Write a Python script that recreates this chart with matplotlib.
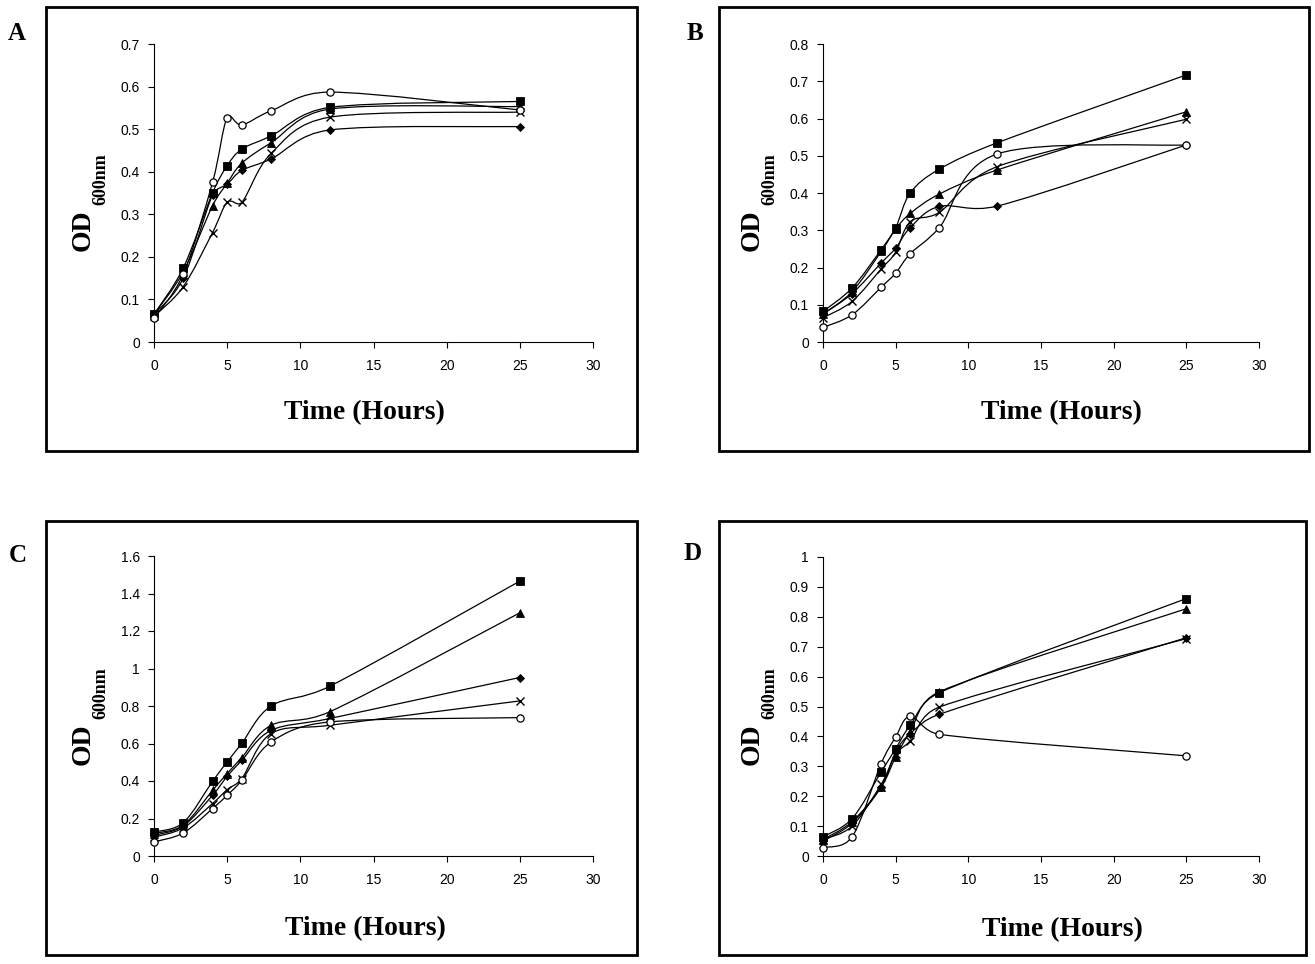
import numpy as np
import matplotlib
matplotlib.use("Agg")
import matplotlib.pyplot as plt
from matplotlib.path import Path
from matplotlib.patches import PathPatch, Rectangle

# ---- data: OD600 readings over time ----
hours = [0, 2, 4, 5, 6, 8, 12, 25]
hours_d = [0, 2, 4, 5, 6, 8, 25]

a_diamond = [0.065, 0.150, 0.345, 0.371, 0.403, 0.430, 0.498, 0.506]
a_square = [0.065, 0.174, 0.350, 0.414, 0.453, 0.484, 0.551, 0.565]
a_triangle = [0.065, 0.165, 0.320, 0.373, 0.420, 0.468, 0.547, 0.553]
a_cross = [0.060, 0.130, 0.257, 0.328, 0.328, 0.443, 0.528, 0.540]
a_circle = [0.056, 0.160, 0.375, 0.527, 0.510, 0.543, 0.587, 0.545]

b_diamond = [0.075, 0.130, 0.212, 0.252, 0.307, 0.364, 0.365, 0.529]
b_square = [0.082, 0.145, 0.248, 0.307, 0.400, 0.464, 0.535, 0.717]
b_triangle = [0.075, 0.135, 0.243, 0.303, 0.345, 0.397, 0.462, 0.618]
b_cross = [0.065, 0.109, 0.196, 0.241, 0.323, 0.348, 0.471, 0.598]
b_circle = [0.039, 0.073, 0.147, 0.185, 0.237, 0.307, 0.505, 0.529]

c_diamond = [0.110, 0.160, 0.324, 0.425, 0.510, 0.670, 0.733, 0.952]
c_square = [0.128, 0.178, 0.398, 0.502, 0.601, 0.800, 0.905, 1.466]
c_triangle = [0.120, 0.165, 0.350, 0.440, 0.525, 0.697, 0.769, 1.297]
c_cross = [0.100, 0.150, 0.280, 0.354, 0.413, 0.653, 0.697, 0.827]
c_circle = [0.075, 0.123, 0.253, 0.324, 0.404, 0.608, 0.715, 0.738]

d_diamond = [0.050, 0.110, 0.231, 0.348, 0.409, 0.474, 0.730]
d_square = [0.064, 0.125, 0.281, 0.359, 0.437, 0.546, 0.861]
d_triangle = [0.055, 0.115, 0.231, 0.331, 0.415, 0.549, 0.827]
d_cross = [0.055, 0.100, 0.240, 0.340, 0.385, 0.498, 0.727]
d_circle = [0.028, 0.064, 0.309, 0.398, 0.467, 0.407, 0.335]

x_ticks = [0, 5, 10, 15, 20, 25, 30]
x_label = "Time (Hours)"
y_label_main = "OD"
y_label_sub = "600nm"

# ---- figure layout (pixel boxes) ----
W, H = 1315, 964
fig = plt.figure(figsize=(W / 100, H / 100), dpi=100)
fig.patch.set_facecolor("white")

SERIF = "Liberation Serif"
SANS = "Liberation Sans"


def fx(px):
    return px / W


def fy(py):
    return 1 - py / H


markers = [
    dict(marker="D", ms=4.3, mfc="k", mec="k", mew=0.6),
    dict(marker="s", ms=5.5, mfc="k", mec="k", mew=0.6),
    dict(marker="^", ms=6.0, mfc="k", mec="k", mew=0.6),
    dict(marker="x", ms=5.5, mfc="k", mec="k", mew=1.0),
    dict(marker="o", ms=5.2, mfc="white", mec="k", mew=0.9),
]

panels = [
    dict(letter="A", letter_xy=(17, 33), frame=(46, 7, 637, 451),
         axbox=(154, 44, 593, 342), ymax=0.7, ystep=0.1,
         xlab_xy=(364, 413), t=hours,
         series=[a_diamond, a_square, a_triangle, a_cross, a_circle]),
    dict(letter="B", letter_xy=(695, 33), frame=(719, 7, 1309, 451),
         axbox=(823, 44, 1259, 342), ymax=0.8, ystep=0.1,
         xlab_xy=(1061, 413), t=hours,
         series=[b_diamond, b_square, b_triangle, b_cross, b_circle]),
    dict(letter="C", letter_xy=(18, 556), frame=(46, 521, 637, 955),
         axbox=(154, 556, 593, 856), ymax=1.6, ystep=0.2,
         xlab_xy=(365, 929), t=hours,
         series=[c_diamond, c_square, c_triangle, c_cross, c_circle]),
    dict(letter="D", letter_xy=(693, 554), frame=(719, 521, 1306, 955),
         axbox=(823, 557, 1259, 856), ymax=1.0, ystep=0.1,
         xlab_xy=(1062, 930), t=hours_d,
         series=[d_diamond, d_square, d_triangle, d_cross, d_circle]),
]


def smooth_path(ax, x, y):
    """Bezier curve through the points, built in display space."""
    P = ax.transData.transform(np.column_stack([x, y]))
    n = len(P)
    verts = [P[0]]
    codes = [Path.MOVETO]
    for i in range(n - 1):
        p0 = P[max(i - 1, 0)]
        p1 = P[i]
        p2 = P[i + 1]
        p3 = P[min(i + 2, n - 1)]
        seg = np.hypot(*(p2 - p1))
        t1 = (p2 - p0) / 6.0
        t2 = (p3 - p1) / 6.0
        l1 = np.hypot(*t1)
        l2 = np.hypot(*t2)
        if l1 > seg / 2:
            t1 = t1 * (seg / 2) / l1
        if l2 > seg / 2:
            t2 = t2 * (seg / 2) / l2
        verts += [p1 + t1, p2 - t2, p2]
        codes += [Path.CURVE4] * 3
    data = ax.transData.inverted().transform(np.array(verts))
    return Path(data, codes)


for p in panels:
    l, t, r, b = p["axbox"]
    ax = fig.add_axes([fx(l), fy(b), (r - l) / W, (b - t) / H])
    ax.set_xlim(0, 30)
    ax.set_ylim(0, p["ymax"])
    ax.set_facecolor("none")
    for s in ("top", "right"):
        ax.spines[s].set_visible(False)
    for s in ("left", "bottom"):
        ax.spines[s].set_linewidth(0.8)
    yt = np.round(np.arange(0, p["ymax"] + 1e-9, p["ystep"]), 2)
    ax.set_yticks(yt)
    ax.set_yticklabels(["{:g}".format(v) for v in yt])
    ax.set_xticks(x_ticks)
    ax.set_xticklabels([str(v) for v in x_ticks])
    ax.tick_params(axis="y", direction="out", length=4, width=0.8, pad=6,
                   labelsize=10)
    ax.tick_params(axis="x", direction="out", length=4, width=0.8, pad=8,
                   labelsize=10)
    for lab in ax.get_xticklabels() + ax.get_yticklabels():
        lab.set_fontfamily(SANS)

    for vals, mk in zip(p["series"], markers):
        path = smooth_path(ax, p["t"], vals)
        ax.add_patch(PathPatch(path, fill=False, lw=0.9, ec="k",
                               clip_on=False, zorder=2))
        ax.plot(p["t"], vals, linestyle="none", clip_on=False, zorder=3, **mk)

    # frame round the panel
    fl, ft, fr, fb = p["frame"]
    fig.add_artist(Rectangle((fx(fl), fy(fb)), (fr - fl) / W, (fb - ft) / H,
                             transform=fig.transFigure, fill=False,
                             lw=2.0, ec="k"))

    # panel letter
    lx, ly = p["letter_xy"]
    fig.text(fx(lx), fy(ly), p["letter"], ha="center", va="center",
             fontsize=18, fontweight="bold", family=SERIF)

    # axis titles
    xx, xy = p["xlab_xy"]
    fig.text(fx(xx), fy(xy), x_label, ha="center", va="center",
             fontsize=20, fontweight="bold", family=SERIF)
    fig.text(fx(l - 71), fy(b - 112), y_label_main, rotation=90,
             ha="center", va="center", fontsize=20, fontweight="bold",
             family=SERIF)
    fig.text(fx(l - 53), fy(b - 163), y_label_sub, rotation=90,
             ha="center", va="center", fontsize=13, fontweight="bold",
             family=SERIF)

fig.savefig("out.png", dpi=100, facecolor="white")
